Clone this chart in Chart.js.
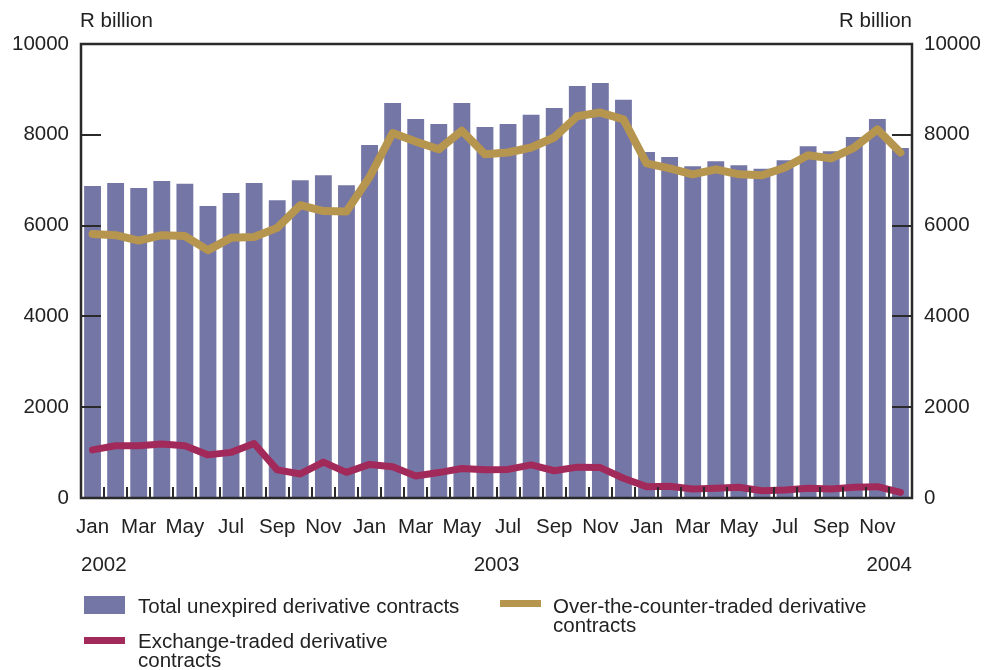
<!DOCTYPE html>
<html lang="en">
<head>
  <meta charset="UTF-8">
  <title>Derivative contracts outstanding</title>
  <script src="https://cdn.jsdelivr.net/npm/chart.js"></script>
  <style>
    body {
      margin: 0;
      background: #fff;
      font-family: "Liberation Sans", Arial, sans-serif;
      color: #222;
    }
    #wrap {
      position: relative;
      width: 988px;
      height: 670px;
    }
    .legend-item {
      position: absolute;
      font-size: 20.5px;
      line-height: 19px;
    }
    .swatch {
      position: absolute;
    }
  </style>
</head>
<body>
  <div id="wrap">
    <canvas id="chart" width="988" height="670"></canvas>

    <div class="swatch" style="left:84px; top:596px; width:41px; height:18px; background:#7476a6;"></div>
    <div class="legend-item" style="left:138px; top:596px;">Total unexpired derivative contracts</div>

    <div class="swatch" style="left:500px; top:600px; width:41px; height:7px; background:#b6954f;"></div>
    <div class="legend-item" style="left:553px; top:596px;">Over-the-counter-traded derivative<br>contracts</div>

    <div class="swatch" style="left:84px; top:637px; width:41px; height:7px; background:#a12a5a;"></div>
    <div class="legend-item" style="left:138px; top:631px;">Exchange-traded derivative<br>contracts</div>
  </div>

  <script>
    const months = ['Jan', 'Feb', 'Mar', 'Apr', 'May', 'Jun', 'Jul', 'Aug', 'Sep', 'Oct', 'Nov', 'Dec'];
    const years = ['2002', '2003', '2004'];

    // R billion, monthly Jan 2002 - Dec 2004
    const totalUnexpired = [
      6870, 6940, 6830, 6980, 6920, 6430, 6720, 6940, 6560, 7000, 7110, 6890,
      7775, 8700, 8350, 8240, 8700, 8170, 8240, 8440, 8590, 9075, 9140, 8770,
      7620, 7510, 7310, 7420, 7330, 7250, 7440, 7750, 7640, 7950, 8350, 7710
    ];
    const overTheCounter = [
      5815, 5790, 5670, 5790, 5770, 5460, 5730, 5750, 5950, 6450, 6320, 6310,
      7070, 8040, 7850, 7680, 8090, 7570, 7610, 7720, 7940, 8410, 8490, 8340,
      7370, 7260, 7130, 7240, 7130, 7110, 7280, 7550, 7480, 7720, 8120, 7610
    ];
    const exchangeTraded = [
      1060, 1150, 1150, 1190, 1150, 950, 1005, 1200, 620, 530, 790, 565,
      740, 690, 485, 560, 650, 620, 630, 730, 600, 680, 670, 435,
      250, 260, 200, 215, 235, 160, 175, 215, 200, 235, 250, 125
    ];
    const yTicks = [0, 2000, 4000, 6000, 8000, 10000];

    const labels = [];
    years.forEach(y => months.forEach(m => labels.push(m + ' ' + y)));

    const FONT = '"Liberation Sans", Arial, sans-serif';
    const INK = '#2a2a2a';

    // frame, inward tick marks, unit captions and year labels
    const decorations = {
      id: 'decorations',
      afterDatasetsDraw(chart) {
        const { ctx, chartArea: a, scales } = chart;
        ctx.save();
        ctx.strokeStyle = INK;
        ctx.lineWidth = 2;

        ctx.beginPath();
        yTicks.slice(1, -1).forEach(v => {
          const py = Math.round(scales.y.getPixelForValue(v));
          ctx.moveTo(a.left, py);
          ctx.lineTo(a.left + 20, py);
          ctx.moveTo(a.right - 20, py);
          ctx.lineTo(a.right, py);
        });
        for (let i = 0; i < labels.length - 1; i++) {
          const px = Math.round((scales.x.getPixelForValue(i) + scales.x.getPixelForValue(i + 1)) / 2);
          ctx.moveTo(px, a.bottom);
          ctx.lineTo(px, a.bottom - 11);
        }
        ctx.stroke();

        ctx.lineWidth = 2.5;
        ctx.strokeRect(a.left, a.top, a.right - a.left, a.bottom - a.top);
        ctx.restore();
      },
      afterDraw(chart) {
        const { ctx, chartArea: a } = chart;
        ctx.save();
        ctx.fillStyle = '#222';
        ctx.font = '20.5px ' + FONT;
        ctx.textBaseline = 'middle';

        ctx.textAlign = 'left';
        ctx.fillText('R billion', a.left - 1, 21);
        ctx.textAlign = 'right';
        ctx.fillText('R billion', a.right, 21);

        ctx.textAlign = 'left';
        ctx.fillText(years[0], a.left, 565);
        ctx.textAlign = 'center';
        ctx.fillText(years[1], (a.left + a.right) / 2, 565);
        ctx.textAlign = 'right';
        ctx.fillText(years[2], a.right, 565);
        ctx.restore();
      }
    };

    const yAxis = (position, width) => ({
      type: 'linear',
      position: position,
      min: 0,
      max: 10000,
      afterFit: s => { s.width = width; },
      afterBuildTicks: s => { s.ticks = yTicks.map(v => ({ value: v })); },
      grid: { display: false, drawTicks: false },
      border: { display: false },
      ticks: {
        padding: 12,
        color: '#222',
        font: { family: FONT, size: 20.5 },
        callback: v => String(v)
      }
    });

    Chart.defaults.font.family = FONT;

    new Chart(document.getElementById('chart'), {
      type: 'bar',
      data: {
        labels: labels,
        datasets: [
          {
            type: 'line',
            label: 'Over-the-counter-traded derivative contracts',
            data: overTheCounter,
            borderColor: '#b6954f',
            borderWidth: 8,
            tension: 0,
            pointRadius: 0,
            borderJoinStyle: 'round',
            borderCapStyle: 'round',
            order: 1
          },
          {
            type: 'line',
            label: 'Exchange-traded derivative contracts',
            data: exchangeTraded,
            borderColor: '#a12a5a',
            borderWidth: 7,
            tension: 0,
            pointRadius: 0,
            borderJoinStyle: 'round',
            borderCapStyle: 'round',
            order: 2
          },
          {
            label: 'Total unexpired derivative contracts',
            data: totalUnexpired,
            backgroundColor: '#7476a6',
            barPercentage: 0.73,
            categoryPercentage: 1,
            order: 3
          }
        ]
      },
      options: {
        responsive: false,
        animation: false,
        layout: { padding: { top: 44, left: 0, right: 0, bottom: 0 } },
        plugins: {
          legend: { display: false },
          tooltip: { enabled: false }
        },
        scales: {
          x: {
            offset: true,
            afterFit: s => { s.height = 172; },
            grid: { display: false, drawTicks: false },
            border: { display: false },
            ticks: {
              autoSkip: false,
              maxRotation: 0,
              padding: 17,
              color: '#222',
              font: { family: FONT, size: 20.5 },
              callback: (v, i) => (i % 2 === 0 ? months[i % 12] : '')
            }
          },
          y: yAxis('left', 81),
          y2: yAxis('right', 76)
        }
      },
      plugins: [decorations]
    });
  </script>
</body>
</html>
